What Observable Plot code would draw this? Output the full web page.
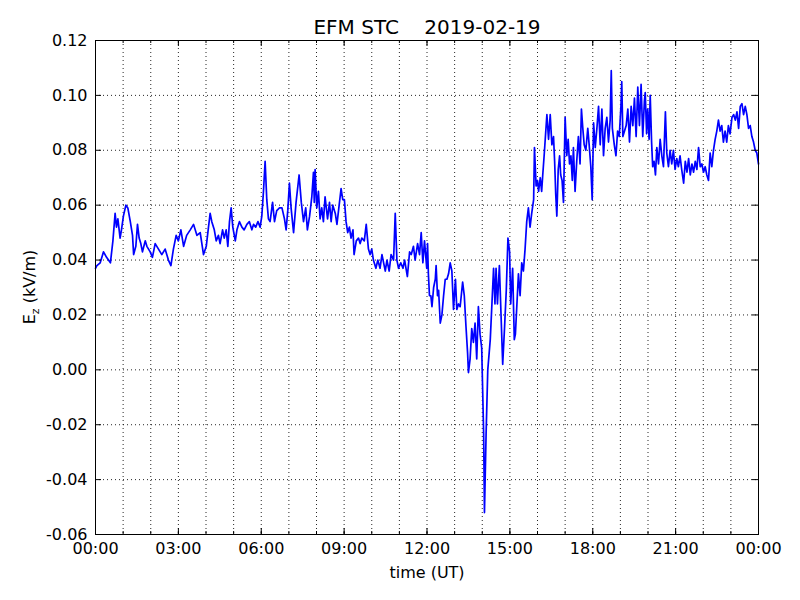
<!DOCTYPE html>
<html><head><meta charset="utf-8">
<script src="https://cdn.jsdelivr.net/npm/d3@7"></script>
<script src="https://cdn.jsdelivr.net/npm/@observablehq/plot@0.6"></script>
<style>
body{margin:0;background:#fff;}
svg text{white-space:pre;}
</style></head><body><div id="chart"></div>
<script>
// ---- data: [hour of day (UT), Ez in kV/m] ----
const seg00to04 = [[0.00,0.037],[0.05,0.038],[0.17,0.039],[0.29,0.043],[0.40,0.041],[0.54,0.039],[0.63,0.047],[0.71,0.057],[0.76,0.052],[0.81,0.055],[0.89,0.048],[0.94,0.051],[1.01,0.056],[1.10,0.060],[1.17,0.059],[1.26,0.054],[1.34,0.049],[1.38,0.042],[1.46,0.045],[1.52,0.053],[1.58,0.048],[1.64,0.046],[1.70,0.043],[1.80,0.047],[1.86,0.045],[1.98,0.043],[2.06,0.041],[2.16,0.046],[2.28,0.044],[2.40,0.042],[2.52,0.044],[2.64,0.040],[2.73,0.038],[2.82,0.044],[2.92,0.049],[3.00,0.047],[3.09,0.051],[3.19,0.045],[3.30,0.049],[3.43,0.051],[3.55,0.053],[3.67,0.049],[3.79,0.050],[3.91,0.042]];
const seg04to08 = [[4.01,0.045],[4.09,0.052],[4.15,0.057],[4.21,0.054],[4.30,0.051],[4.37,0.047],[4.45,0.049],[4.51,0.046],[4.60,0.051],[4.66,0.048],[4.73,0.051],[4.79,0.045],[4.85,0.054],[4.91,0.059],[4.97,0.052],[5.06,0.047],[5.12,0.051],[5.21,0.054],[5.30,0.052],[5.38,0.051],[5.48,0.053],[5.57,0.054],[5.66,0.051],[5.72,0.053],[5.80,0.052],[5.88,0.054],[5.96,0.052],[6.02,0.056],[6.08,0.065],[6.14,0.076],[6.20,0.062],[6.26,0.055],[6.32,0.054],[6.41,0.061],[6.48,0.054],[6.56,0.058],[6.66,0.059],[6.75,0.059],[6.84,0.055],[6.90,0.051],[6.96,0.058],[7.02,0.068],[7.08,0.059],[7.17,0.050],[7.26,0.061],[7.37,0.071],[7.45,0.061],[7.53,0.054],[7.61,0.059],[7.67,0.051],[7.75,0.056],[7.83,0.063],[7.89,0.072],[7.92,0.061],[7.95,0.073]];
const seg08to12 = [[8.01,0.059],[8.07,0.065],[8.13,0.055],[8.19,0.059],[8.25,0.054],[8.31,0.063],[8.40,0.055],[8.47,0.061],[8.53,0.054],[8.59,0.060],[8.68,0.057],[8.74,0.053],[8.82,0.060],[8.89,0.066],[8.95,0.062],[9.01,0.062],[9.07,0.054],[9.13,0.050],[9.19,0.052],[9.25,0.048],[9.32,0.051],[9.36,0.042],[9.44,0.047],[9.52,0.048],[9.58,0.046],[9.64,0.048],[9.73,0.047],[9.80,0.053],[9.88,0.044],[9.94,0.042],[10.00,0.044],[10.06,0.040],[10.15,0.037],[10.22,0.040],[10.30,0.037],[10.37,0.042],[10.43,0.039],[10.49,0.036],[10.55,0.040],[10.63,0.036],[10.70,0.042],[10.79,0.040],[10.85,0.057],[10.91,0.040],[10.97,0.037],[11.05,0.039],[11.13,0.037],[11.19,0.040],[11.29,0.034],[11.37,0.043],[11.43,0.042],[11.51,0.045],[11.57,0.040],[11.66,0.046],[11.73,0.042],[11.79,0.050],[11.85,0.039],[11.91,0.047]];
const seg12to16 = [[11.99,0.037],[12.02,0.046],[12.05,0.035],[12.09,0.027],[12.14,0.027],[12.18,0.023],[12.24,0.030],[12.30,0.033],[12.33,0.038],[12.38,0.027],[12.42,0.029],[12.48,0.017],[12.54,0.020],[12.60,0.027],[12.66,0.033],[12.72,0.033],[12.78,0.035],[12.84,0.039],[12.90,0.036],[12.96,0.022],[13.03,0.033],[13.08,0.022],[13.14,0.024],[13.20,0.023],[13.29,0.032],[13.35,0.027],[13.41,0.016],[13.47,0.006],[13.50,-0.001],[13.56,0.004],[13.62,0.015],[13.68,0.010],[13.74,0.017],[13.80,0.004],[13.86,0.023],[13.92,0.013],[13.98,0.008],[14.05,-0.023],[14.08,-0.052],[14.14,-0.023],[14.20,0.000],[14.29,0.011],[14.35,0.024],[14.41,0.037],[14.46,0.024],[14.50,0.037],[14.55,0.024],[14.62,0.038],[14.68,0.020],[14.74,0.002],[14.81,0.016],[14.87,0.029],[14.93,0.048],[14.99,0.043],[15.03,0.024],[15.10,0.037],[15.16,0.011],[15.20,0.013],[15.26,0.025],[15.31,0.035],[15.37,0.027],[15.43,0.039],[15.49,0.036],[15.55,0.044],[15.61,0.054],[15.67,0.059],[15.73,0.052],[15.79,0.057],[15.86,0.062],[15.89,0.081],[15.95,0.067]];
const seg16to20 = [[16.00,0.069],[16.04,0.065],[16.10,0.070],[16.15,0.065],[16.19,0.071],[16.24,0.078],[16.30,0.087],[16.34,0.093],[16.40,0.084],[16.46,0.093],[16.52,0.082],[16.58,0.085],[16.62,0.076],[16.66,0.064],[16.70,0.056],[16.75,0.073],[16.80,0.078],[16.84,0.071],[16.89,0.069],[16.94,0.061],[17.00,0.092],[17.06,0.078],[17.11,0.084],[17.16,0.075],[17.21,0.078],[17.26,0.069],[17.30,0.081],[17.36,0.065],[17.42,0.076],[17.48,0.085],[17.54,0.075],[17.59,0.095],[17.64,0.088],[17.69,0.082],[17.75,0.080],[17.82,0.088],[17.87,0.082],[17.93,0.074],[17.98,0.062],[18.03,0.090],[18.09,0.081],[18.15,0.088],[18.21,0.096],[18.27,0.082],[18.33,0.095],[18.39,0.078],[18.45,0.088],[18.51,0.092],[18.57,0.083],[18.63,0.091],[18.67,0.109],[18.71,0.088],[18.78,0.082],[18.84,0.078],[18.90,0.087],[18.96,0.085],[19.02,0.096],[19.05,0.105],[19.09,0.085],[19.15,0.087],[19.21,0.089],[19.27,0.095],[19.33,0.083],[19.39,0.096],[19.45,0.089],[19.51,0.099],[19.57,0.085],[19.63,0.103],[19.69,0.089],[19.75,0.104],[19.81,0.085],[19.87,0.098],[19.90,0.101],[19.95,0.086]];
const seg20to24 = [[19.99,0.095],[20.04,0.084],[20.08,0.100],[20.13,0.083],[20.17,0.074],[20.22,0.076],[20.27,0.071],[20.32,0.081],[20.38,0.075],[20.44,0.084],[20.50,0.078],[20.56,0.074],[20.63,0.094],[20.68,0.079],[20.74,0.074],[20.80,0.080],[20.86,0.075],[20.92,0.080],[20.98,0.073],[21.04,0.077],[21.10,0.074],[21.16,0.078],[21.22,0.073],[21.29,0.068],[21.35,0.076],[21.41,0.072],[21.47,0.077],[21.53,0.071],[21.59,0.075],[21.65,0.072],[21.71,0.076],[21.77,0.073],[21.83,0.081],[21.89,0.074],[21.95,0.075],[22.01,0.072],[22.07,0.074],[22.13,0.071],[22.19,0.069],[22.25,0.079],[22.31,0.074],[22.37,0.080],[22.43,0.084],[22.49,0.087],[22.55,0.091],[22.61,0.087],[22.67,0.089],[22.73,0.083],[22.79,0.087],[22.85,0.083],[22.91,0.089],[22.97,0.086],[23.04,0.092],[23.10,0.093],[23.16,0.091],[23.22,0.094],[23.28,0.088],[23.34,0.096],[23.40,0.097],[23.46,0.093],[23.52,0.096],[23.58,0.093],[23.64,0.088],[23.70,0.089],[23.76,0.085],[23.82,0.083],[23.88,0.080],[23.94,0.079],[24.00,0.075]];

const xTickHours  = [0, 3, 6, 9, 12, 15, 18, 21, 24];
const xTickLabels = ["00:00","03:00","06:00","09:00","12:00","15:00","18:00","21:00","00:00"];
const hourGrid    = d3.range(0, 25, 1);
const yTicks      = [-0.06, -0.04, -0.02, 0.00, 0.02, 0.04, 0.06, 0.08, 0.10, 0.12];
const titleText   = "EFM STC    2019-02-19";
const xLabelText  = "time (UT)";

const data = [...seg00to04, ...seg04to08, ...seg08to12, ...seg12to16, ...seg16to20, ...seg20to24]
  .map(([h, v]) => ({h, v}));

const W = 800, H = 600, mL = 95, mR = 42, mT = 40, mB = 66;
const fw = W - mL - mR, fh = H - mT - mB;
const gridStyle = {stroke: "#000", strokeOpacity: 0.85, strokeWidth: 1, strokeDasharray: "1,3"};

const svg = Plot.plot({
  width: W, height: H,
  marginLeft: mL, marginRight: mR, marginTop: mT, marginBottom: mB,
  style: {fontFamily: "DejaVu Sans", fontSize: "16px", background: "#fff", color: "#000", overflow: "visible"},
  x: {type: "linear", domain: [0, 24]},
  y: {type: "linear", domain: [-0.06, 0.12]},
  marks: [
    Plot.ruleX(hourGrid, {x: d => d, ...gridStyle}),
    Plot.ruleY(yTicks, {y: d => d, ...gridStyle}),
    Plot.line(data, {x: "h", y: "v", stroke: "#0000ff", strokeWidth: 1.7, strokeLinejoin: "round"}),
    Plot.frame({stroke: "#000", strokeWidth: 1}),
    // inward ticks: major (3h) and minor (1h) on bottom and top
    Plot.tickX(xTickHours, {x: d => d, insetTop: fh - 6, stroke: "#000"}),
    Plot.tickX(xTickHours, {x: d => d, insetBottom: fh - 6, stroke: "#000"}),
    Plot.tickX(hourGrid, {x: d => d, insetTop: fh - 3, stroke: "#000"}),
    Plot.tickX(hourGrid, {x: d => d, insetBottom: fh - 3, stroke: "#000"}),
    Plot.tickY(yTicks, {y: d => d, insetRight: fw - 6, stroke: "#000"}),
    Plot.tickY(yTicks, {y: d => d, insetLeft: fw - 6, stroke: "#000"}),
    Plot.axisX(xTickHours, {anchor: "bottom", tickSize: 0, tickPadding: 8, label: null,
      tickFormat: d => xTickLabels[xTickHours.indexOf(d)]}),
    Plot.axisY(yTicks, {anchor: "left", tickSize: 0, tickPadding: 8, label: null,
      tickFormat: d => d.toFixed(2)}),
    Plot.text([titleText], {text: d => d, frameAnchor: "top", lineAnchor: "middle", dy: -13, fontSize: 20}),
    Plot.text([xLabelText], {text: d => d, frameAnchor: "bottom", lineAnchor: "middle", dy: 38, fontSize: 16})
  ]
});

// y-axis label with subscript
const yl = d3.select(svg).append("text")
  .attr("transform", `translate(35,${mT + fh / 2}) rotate(-90)`)
  .attr("text-anchor", "middle")
  .attr("font-family", "DejaVu Sans")
  .attr("font-size", 16)
  .attr("fill", "#000");
yl.append("tspan").text("E");
yl.append("tspan").attr("font-size", 11).attr("dy", 4).text("z");
yl.append("tspan").attr("dy", -4).text(" (kV/m)");

document.getElementById("chart").appendChild(svg);
</script></body></html>
